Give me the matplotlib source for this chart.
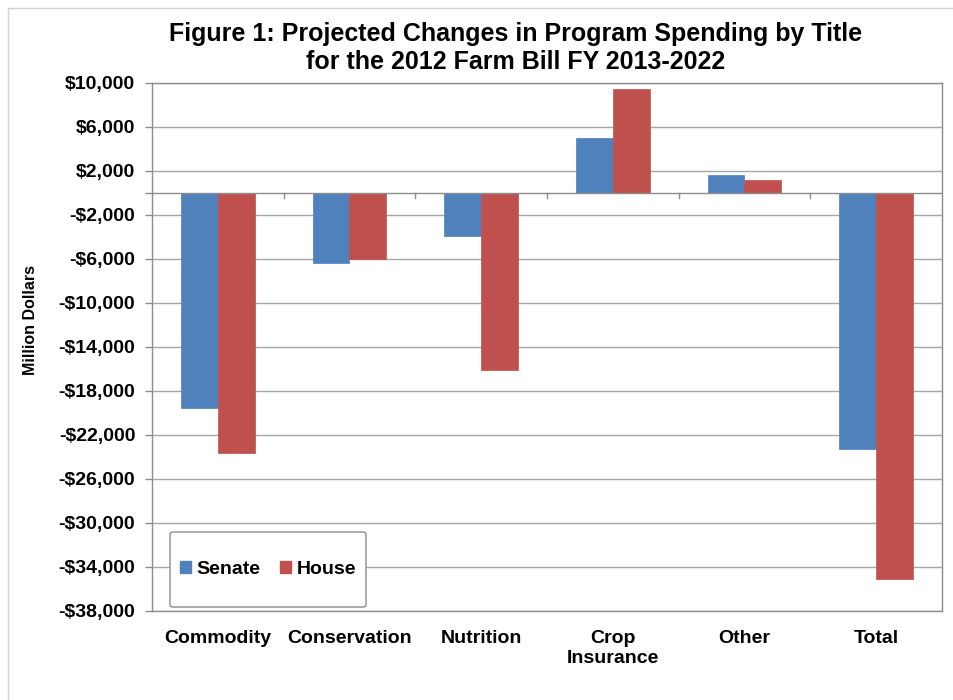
import matplotlib
matplotlib.use("Agg")
import matplotlib.pyplot as plt
from matplotlib.patches import Rectangle, FancyBboxPatch
from matplotlib.ticker import FuncFormatter, FixedLocator
import numpy as np

categories = ["Commodity", "Conservation", "Nutrition", "Crop\nInsurance", "Other", "Total"]
senate = [-19500, -6400, -3900, 5000, 1600, -23300]
house = [-23600, -6000, -16100, 9500, 1200, -35100]
series_names = ["Senate", "House"]
colors = ["#4F81BD", "#C0504D"]
yticks = list(range(10000, -38001, -4000))

plt.rcParams["font.family"] = ["Liberation Sans", "DejaVu Sans"]
plt.rcParams["font.weight"] = "bold"

W, H = 954, 700
fig = plt.figure(figsize=(W / 100, H / 100), dpi=100)

# outer chart border
fig.patches.append(Rectangle((8 / W, -0.01), 1.2, 1 - 8 / H + 0.01, transform=fig.transFigure,
                             fill=False, edgecolor="#D4D4D4", linewidth=1.0, zorder=0))

left, right, top, bottom = 152, 942, 83, 611
ax = fig.add_axes([left / W, 1 - bottom / H, (right - left) / W, (bottom - top) / H])

x = np.arange(len(categories))
bw = 0.28
ax.bar(x - bw / 2, senate, width=bw, color=colors[0], edgecolor=colors[0], linewidth=0.5, zorder=3)
ax.bar(x + bw / 2, house, width=bw, color=colors[1], edgecolor=colors[1], linewidth=0.5, zorder=3)

ax.set_xlim(-0.5, len(categories) - 0.5)
ax.set_ylim(yticks[-1], yticks[0])

ax.yaxis.set_major_locator(FixedLocator(yticks))
ax.yaxis.set_minor_locator(FixedLocator([0]))


def money(v, pos=None):
    v = int(round(v))
    return ("-$" if v < 0 else "$") + f"{abs(v):,}"


ax.yaxis.set_major_formatter(FuncFormatter(money))
ax.grid(axis="y", color="#A6A6A6", linewidth=1.0, zorder=1)
ax.tick_params(axis="y", which="both", direction="out", length=5, width=1, color="#8C8C8C",
               pad=7, labelsize=14)
ax.tick_params(axis="y", which="minor", labelleft=False)

ax.set_xticks(x)
ax.set_xticklabels(categories, fontsize=14, fontweight="bold", linespacing=1.25)
ax.tick_params(axis="x", length=0, pad=13.5)

for s in ax.spines.values():
    s.set_color("#8C8C8C")
    s.set_linewidth(1.0)

# category axis at zero with boundary ticks
ax.axhline(0, color="#8C8C8C", linewidth=1.0, zorder=4)
tick_len = 5 * 48000 / (bottom - top)
for b in np.arange(0.5, len(categories) - 0.5, 1.0):
    ax.plot([b, b], [0, -tick_len], color="#8C8C8C", linewidth=1.0, zorder=4, clip_on=False)

ax.set_ylabel("Million Dollars", fontsize=11.5, fontweight="bold")
ax.yaxis.set_label_coords((38 - left) / (right - left), (bottom - 320) / (bottom - top))

fig.text(516 / W, 1 - 48 / H, "Figure 1: Projected Changes in Program Spending by Title\nfor the 2012 Farm Bill FY 2013-2022",
         ha="center", va="center", fontsize=18, fontweight="bold", linespacing=1.2)

# legend box
lx0, lx1, ly0, ly1 = 170, 366, 532, 607
box = FancyBboxPatch(((lx0 - left) / (right - left), (bottom - ly1) / (bottom - top)),
                     (lx1 - lx0) / (right - left), (ly1 - ly0) / (bottom - top),
                     boxstyle="round,pad=0,rounding_size=0.004", transform=ax.transAxes,
                     facecolor="white", edgecolor="#8C8C8C", linewidth=1.0, zorder=5)
ax.add_patch(box)
handles = [Rectangle((0, 0), 1, 1, color=c) for c in colors]
leg = ax.legend(handles, series_names, ncol=2, loc="center",
                bbox_to_anchor=(((lx0 + lx1) / 2 - left) / (right - left), (bottom - (ly0 + ly1) / 2) / (bottom - top)),
                frameon=False, handlelength=0.55, handleheight=0.55,
                handletextpad=0.3, columnspacing=1.0, prop={"weight": "bold", "size": 14})
leg.set_zorder(6)

fig.savefig("out.png", dpi=100, facecolor="white")
